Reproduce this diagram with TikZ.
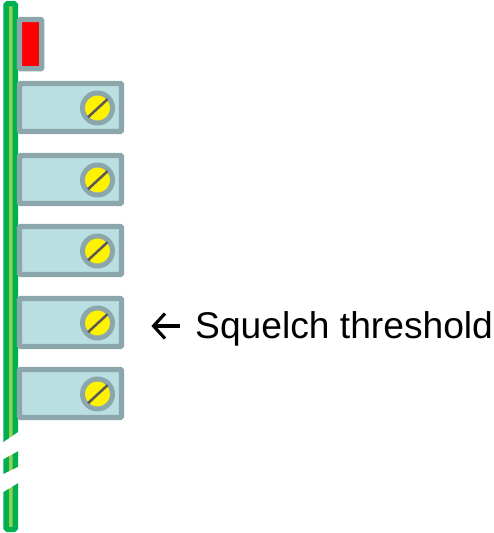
\documentclass[tikz,border=0pt]{standalone}
\usepackage{fontspec}
\setmainfont{Liberation Sans}
\definecolor{railOuter}{HTML}{00B050}
\definecolor{railInner}{HTML}{92D050}
\definecolor{frameGrey}{HTML}{8BA7AB}
\definecolor{panelFill}{HTML}{B9DFE3}
\definecolor{slotGrey}{HTML}{595959}
\tikzset{
  rail/.style={draw=railOuter,fill=railInner,line width=5.4pt,rounded corners=1.5pt},
  ledbox/.style={draw=frameGrey,fill=red,line width=5.2pt,rounded corners=1pt},
  panelbox/.style={draw=frameGrey,fill=panelFill,line width=5.2pt,rounded corners=1pt},
  knob/.style={draw=frameGrey,fill=yellow,line width=5pt},
  slot/.style={draw=slotGrey,line width=2.5pt},
  gapcut/.style={fill=white,draw=none},
  pointer/.style={draw=black,line width=3.1pt,line join=miter},
  label/.style={font=\fontsize{37.2pt}{42pt}\selectfont,anchor=base west,inner sep=0pt}
}
\begin{document}
\begin{tikzpicture}[x=1pt,y=-1pt]
\useasboundingbox (0,0) rectangle (493,533);
\draw[rail] (6.1,3.6) rectangle (15.4,529.5);
% slanted breaks in the rail
\fill[gapcut] (0,444.5) -- (20,430.8) -- (20,450) -- (0,461) -- cycle;
\fill[gapcut] (0,475.7) -- (20,466) -- (20,481.8) -- (0,494) -- cycle;
\draw[ledbox] (19.5,19.5) rectangle (41.8,68.8);
\foreach \n/\y in {1/81,2/153,3/224,4/296,5/367}{
  \draw[panelbox] (19.5,\y+2.5) rectangle (121.5,\y+50.4);
  \draw[knob] (97.5,\y+27) circle (15);
  \draw[slot] (88,\y+36.2) -- (107.5,\y+18.2);
}
\node[label] (squelch) at (195,338) {Squelch threshold};
\coordinate (tip) at (153.5,326);
\coordinate (tail) at (180,326);
\draw[pointer] (tail) -- (tip);
\draw[pointer] (165,313.5) -- (tip) -- (165,338.5);
\end{tikzpicture}
\end{document}
